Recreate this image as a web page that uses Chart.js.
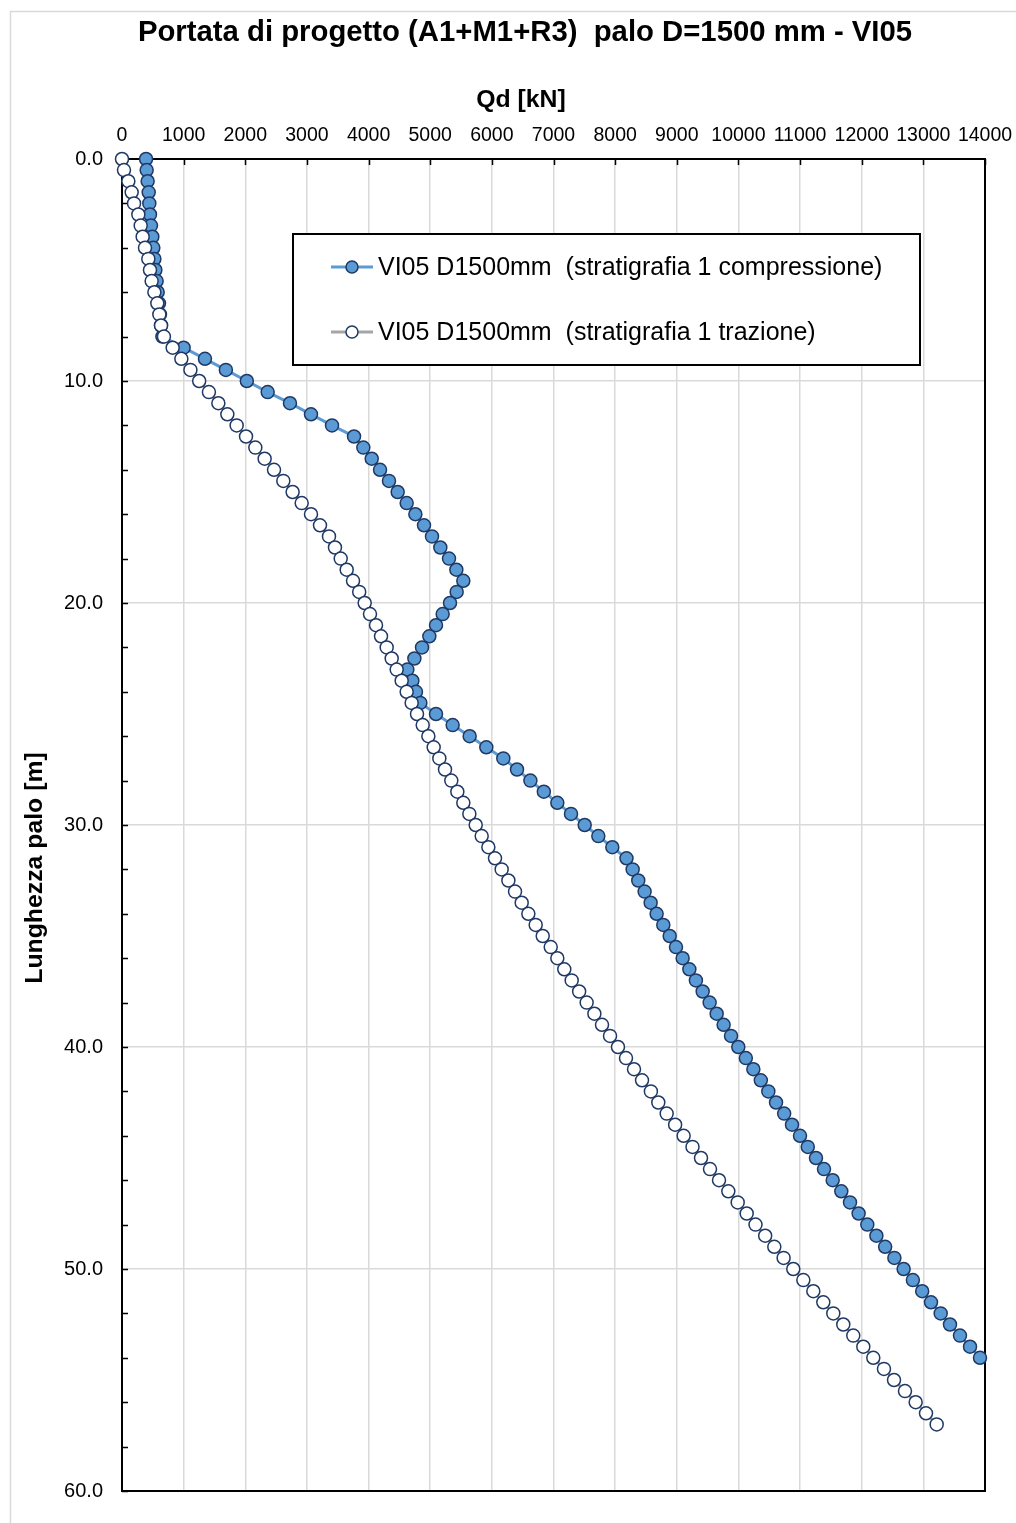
<!DOCTYPE html>
<html>
<head>
<meta charset="utf-8">
<script src="https://cdn.jsdelivr.net/npm/chart.js@4.4.1/dist/chart.umd.min.js"></script>
<style>
  html, body { margin: 0; padding: 0; background: #ffffff; }
  canvas { display: block; }
</style>
</head>
<body>
<canvas id="chart" width="1016" height="1523"></canvas>
<script>
// Texts
const chartTitle = 'Portata di progetto (A1+M1+R3)  palo D=1500 mm - VI05';
const xAxisTitle = 'Qd [kN]';
const yAxisTitle = 'Lunghezza palo [m]';
const seriesNames = [
  'VI05 D1500mm  (stratigrafia 1 compressione)',
  'VI05 D1500mm  (stratigrafia 1 trazione)'
];

// Pile length [m] for every computed step
const depth = [
  0, 0.5, 1, 1.5, 2, 2.5, 3, 3.5, 4, 4.5,
  5, 5.5, 6, 6.5, 7, 7.5, 8, 8.5, 9, 9.5,
  10, 10.5, 11, 11.5, 12, 12.5, 13, 13.5, 14, 14.5,
  15, 15.5, 16, 16.5, 17, 17.5, 18, 18.5, 19, 19.5,
  20, 20.5, 21, 21.5, 22, 22.5, 23, 23.5, 24, 24.5,
  25, 25.5, 26, 26.5, 27, 27.5, 28, 28.5, 29, 29.5,
  30, 30.5, 31, 31.5, 32, 32.5, 33, 33.5, 34, 34.5,
  35, 35.5, 36, 36.5, 37, 37.5, 38, 38.5, 39, 39.5,
  40, 40.5, 41, 41.5, 42, 42.5, 43, 43.5, 44, 44.5,
  45, 45.5, 46, 46.5, 47, 47.5, 48, 48.5, 49, 49.5,
  50, 50.5, 51, 51.5, 52, 52.5, 53, 53.5, 54, 54.5,
  55, 55.5, 56, 56.5, 57
];

// Design capacity Qd [kN] - compression (0 ... 54 m)
const qdCompression = [
  390, 400, 416, 433, 443, 454, 470, 492, 508, 525,
  541, 562, 579, 600, 616, 633, 655, 1000, 1346, 1685,
  2025, 2363, 2725, 3066, 3407, 3764, 3915, 4051, 4186, 4331,
  4472, 4618, 4759, 4899, 5029, 5164, 5305, 5424, 5537, 5429,
  5321, 5202, 5094, 4986, 4867, 4743, 4629, 4710, 4769, 4840,
  5094, 5364, 5640, 5910, 6186, 6408, 6625, 6843, 7062, 7284,
  7506, 7727, 7954, 8184, 8284, 8375, 8478, 8576, 8673, 8781,
  8885, 8987, 9095, 9204, 9310, 9420, 9533, 9647, 9760, 9880,
  9998, 10120, 10242, 10363, 10485, 10610, 10742, 10869, 10999, 11125,
  11258, 11388, 11529, 11669, 11810, 11950, 12091, 12238, 12380, 12530,
  12680, 12830, 12981, 13124, 13281, 13432, 13594, 13757, 13919
];

// Design capacity Qd [kN] - tension (0 ... 57 m)
const qdTraction = [
  0, 32, 103, 157, 195, 265, 303, 335, 373, 427,
  454, 481, 525, 573, 606, 633, 680, 822, 963, 1110,
  1252, 1410, 1563, 1709, 1860, 2012, 2163, 2314, 2466, 2617,
  2768, 2915, 3066, 3212, 3358, 3455, 3548, 3645, 3748, 3848,
  3937, 4023, 4121, 4202, 4294, 4375, 4456, 4537, 4618, 4699,
  4786, 4878, 4970, 5056, 5148, 5240, 5342, 5440, 5537, 5635,
  5738, 5835, 5943, 6051, 6159, 6268, 6376, 6484, 6592, 6711,
  6825, 6955, 7062, 7175, 7295, 7416, 7538, 7663, 7787, 7917,
  8046, 8176, 8306, 8436, 8580, 8700, 8836, 8973, 9111, 9255,
  9393, 9539, 9685, 9836, 9988, 10134, 10277, 10434, 10582, 10733,
  10890, 11053, 11215, 11377, 11539, 11701, 11863, 12026, 12188, 12361,
  12524, 12702, 12875, 13043, 13216
];

// Axis ticks
const xTickValues = [0, 1000, 2000, 3000, 4000, 5000, 6000, 7000, 8000, 9000, 10000, 11000, 12000, 13000, 14000];
const yLabelValues = [0, 10, 20, 30, 40, 50, 60];
const yMinorStep = 2;

const FONT = "'Liberation Sans', Arial, Helvetica, sans-serif";

const styles = [
  { line: '#5b9bd5', fill: '#5b9bd5', edge: '#1f3864' },
  { line: '#a5a5a5', fill: '#ffffff', edge: '#1f3864' }
];

function toPoints(values) {
  return values.map((v, i) => ({ x: v, y: depth[i] }));
}

// Frame, inner tick marks, titles and the boxed legend
const decorations = {
  id: 'decorations',
  beforeDraw(chart) {
    const ctx = chart.ctx;
    ctx.save();
    ctx.fillStyle = '#ffffff';
    ctx.fillRect(0, 0, chart.width, chart.height);
    ctx.strokeStyle = '#d9d9d9';
    ctx.lineWidth = 1.5;
    ctx.strokeRect(10.5, 11.5, chart.width + 20, chart.height + 20);
    ctx.restore();
  },
  beforeDatasetsDraw(chart) {
    const ctx = chart.ctx;
    const a = chart.chartArea;
    const xs = chart.scales.x, ys = chart.scales.y;
    ctx.save();
    ctx.strokeStyle = '#000000';
    ctx.lineWidth = 1.5;
    ctx.beginPath();
    xTickValues.forEach(v => {
      const px = Math.round(xs.getPixelForValue(v)) + 0.5;
      ctx.moveTo(px, a.top);
      ctx.lineTo(px, a.top + 6);
    });
    for (let v = 0; v <= 60; v += yMinorStep) {
      const py = Math.round(ys.getPixelForValue(v)) + 0.5;
      ctx.moveTo(a.left, py);
      ctx.lineTo(a.left + 6, py);
    }
    ctx.stroke();
    ctx.lineWidth = 2;
    ctx.strokeRect(a.left, a.top, a.right - a.left, a.bottom - a.top);
    ctx.restore();
  },
  afterDraw(chart) {
    const ctx = chart.ctx;
    ctx.save();
    ctx.fillStyle = '#000000';
    ctx.textAlign = 'center';
    ctx.textBaseline = 'middle';
    ctx.font = 'bold 29.3px ' + FONT;
    ctx.fillText(chartTitle, 525, 33);
    ctx.font = 'bold 24.8px ' + FONT;
    ctx.fillText(xAxisTitle, 521, 100);
    ctx.save();
    ctx.translate(35, 868);
    ctx.rotate(-Math.PI / 2);
    ctx.fillText(yAxisTitle, 0, 0);
    ctx.restore();

    // legend box
    const bx = 293, by = 234, bw = 627, bh = 131;
    ctx.fillStyle = '#ffffff';
    ctx.fillRect(bx, by, bw, bh);
    ctx.strokeStyle = '#000000';
    ctx.lineWidth = 2;
    ctx.strokeRect(bx, by, bw, bh);
    const rows = [267, 332];
    rows.forEach((ry, i) => {
      const st = styles[i];
      ctx.strokeStyle = st.line;
      ctx.lineWidth = 3;
      ctx.beginPath();
      ctx.moveTo(331, ry);
      ctx.lineTo(373, ry);
      ctx.stroke();
      ctx.beginPath();
      ctx.arc(352, ry, 6, 0, Math.PI * 2);
      ctx.fillStyle = st.fill;
      ctx.fill();
      ctx.strokeStyle = st.edge;
      ctx.lineWidth = 1.5;
      ctx.stroke();
      ctx.fillStyle = '#000000';
      ctx.textAlign = 'left';
      ctx.font = '25px ' + FONT;
      ctx.fillText(seriesNames[i], 378, ry + 1);
    });
    ctx.restore();
  }
};

new Chart(document.getElementById('chart'), {
  type: 'line',
  data: {
    datasets: [
      {
        label: seriesNames[0],
        data: toPoints(qdCompression),
        borderColor: styles[0].line,
        borderWidth: 3,
        pointRadius: 6.5,
        pointBackgroundColor: styles[0].fill,
        pointBorderColor: styles[0].edge,
        pointBorderWidth: 1.5,
        tension: 0,
        clip: false,
        order: 1
      },
      {
        label: seriesNames[1],
        data: toPoints(qdTraction),
        borderColor: styles[1].line,
        borderWidth: 3,
        pointRadius: 6.5,
        pointBackgroundColor: styles[1].fill,
        pointBorderColor: styles[1].edge,
        pointBorderWidth: 1.5,
        tension: 0,
        clip: false,
        order: 0
      }
    ]
  },
  options: {
    responsive: false,
    animation: false,
    devicePixelRatio: 1,
    layout: { padding: { top: 100, left: 0, right: 31, bottom: 32 } },
    plugins: {
      legend: { display: false },
      title: { display: false },
      tooltip: { enabled: false }
    },
    scales: {
      x: {
        type: 'linear',
        position: 'top',
        min: 0,
        max: 14000,
        afterBuildTicks(scale) {
          scale.ticks = xTickValues.map(v => ({ value: v }));
        },
        afterFit(scale) {
          scale.height = 59;
          scale.paddingLeft = 0;
          scale.paddingRight = 0;
        },
        ticks: {
          autoSkip: false,
          maxRotation: 0,
          minRotation: 0,
          padding: 12,
          color: '#000000',
          font: { family: FONT, size: 19.5 },
          callback: v => String(v)
        },
        grid: { color: '#d9d9d9', lineWidth: 1.5, drawTicks: false },
        border: { display: false }
      },
      y: {
        type: 'linear',
        reverse: true,
        min: 0,
        max: 60,
        afterBuildTicks(scale) {
          scale.ticks = yLabelValues.map(v => ({ value: v }));
        },
        afterFit(scale) {
          scale.width = 122;
          scale.paddingTop = 0;
          scale.paddingBottom = 0;
        },
        ticks: {
          autoSkip: false,
          padding: 19,
          color: '#000000',
          font: { family: FONT, size: 20 },
          callback: v => Number(v).toFixed(1)
        },
        grid: { color: '#d9d9d9', lineWidth: 1.5, drawTicks: false },
        border: { display: false }
      }
    }
  },
  plugins: [decorations]
});
</script>
</body>
</html>
